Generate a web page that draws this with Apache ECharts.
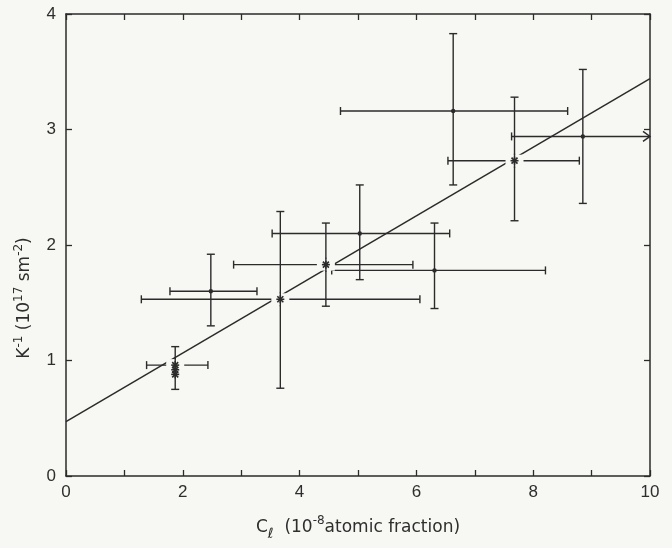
<!DOCTYPE html>
<html>
<head>
<meta charset="utf-8">
<script src="https://cdn.jsdelivr.net/npm/echarts@6/dist/echarts.min.js"></script>
<style>
  html, body { margin: 0; padding: 0; background: #f7f7f3; }
  #chart { width: 672px; height: 548px; }
</style>
</head>
<body>
<div id="chart"></div>
<script>
// points (x: 1e-8 atomic fraction, y: 1e17 sm^-2)
const ptX = [6.63, 7.68, 8.85, 5.03, 3.67, 4.45, 6.31, 2.48, 1.87]
const ptY = [3.16, 2.73, 2.94, 2.10, 1.53, 1.83, 1.78, 1.60, 0.96]
const xLow = [4.70, 6.54, 7.63, 3.53, 1.29, 2.87, 4.55, 1.78, 1.38]
const xHigh = [8.59, 8.79, 10.0, 6.57, 6.06, 5.94, 8.21, 3.27, 2.43]
const yLow = [2.52, 2.21, 2.36, 1.70, 0.76, 1.47, 1.45, 1.30, 0.75]
const yHigh = [3.83, 3.28, 3.52, 2.52, 2.29, 2.19, 2.19, 1.92, 1.12]
const isStar = [0, 1, 0, 0, 1, 1, 0, 0, 1]
const openRight = [0, 0, 1, 0, 0, 0, 0, 0, 0]
// extra overlapping stars under the low point
const clusterX = [1.87, 1.87]
const clusterY = [0.92, 0.88]
// fitted line
const fitX = [0, 10]
const fitY = [0.47, 3.44]
const xLabelsShown = [0, 2, 4, 6, 8, 10]

const ink = '#2b2b2b'
const paper = '#f7f7f3'
const font = 'Liberation Sans'
const titleFont = 'DejaVu Sans'

const chart = echarts.init(document.getElementById('chart'))

const barData = ptX.map((x, i) => [x, ptY[i], xLow[i], xHigh[i], yLow[i], yHigh[i], openRight[i]])
// kind: 0 dot, 1 star with white halo, 2 star without halo (overlapping ones)
const markData = ptX.map((x, i) => [x, ptY[i], isStar[i]])
clusterX.forEach((x, i) => markData.push([x, clusterY[i], 2]))

const renderBars = (params, api) => {
  const x = api.value(0), y = api.value(1)
  const l = api.coord([api.value(2), y])
  const r = api.coord([api.value(3), y])
  const t = api.coord([x, api.value(5)])
  const b = api.coord([x, api.value(4)])
  const cap = 4
  const st = { stroke: ink, lineWidth: 1.4, fill: null }
  const seg = (x1, y1, x2, y2) => ({ type: 'line', shape: { x1, y1, x2, y2 }, style: st })
  const kids = [
    seg(l[0], l[1], r[0], r[1]),
    seg(t[0], t[1], b[0], b[1]),
    seg(t[0] - cap, t[1], t[0] + cap, t[1]),
    seg(b[0] - cap, b[1], b[0] + cap, b[1]),
    seg(l[0], l[1] - cap, l[0], l[1] + cap),
  ]
  if (api.value(6)) {
    kids.push({ type: 'polyline', shape: { points: [[r[0] - 7, r[1] - 5], [r[0], r[1]], [r[0] - 7, r[1] + 5]] }, style: st })
  } else {
    kids.push(seg(r[0], r[1] - cap, r[0], r[1] + cap))
  }
  return { type: 'group', children: kids }
}

const renderMarks = (params, api) => {
  const p = api.coord([api.value(0), api.value(1)])
  const kind = api.value(2)
  if (!kind) {
    return { type: 'circle', shape: { cx: p[0], cy: p[1], r: 2.2 }, style: { fill: ink } }
  }
  const st = { stroke: ink, lineWidth: 1.6 }
  const a = 4
  const d = 3
  const kids = []
  if (kind === 1) {
    kids.push({ type: 'rect', shape: { x: p[0] - 9, y: p[1] - 6, width: 18, height: 12 }, style: { fill: paper } })
    kids.push({ type: 'line', shape: { x1: p[0], y1: p[1] - 7, x2: p[0], y2: p[1] + 7 }, style: { stroke: ink, lineWidth: 1.4 } })
  }
  kids.push(
    { type: 'line', shape: { x1: p[0] - a, y1: p[1], x2: p[0] + a, y2: p[1] }, style: st },
    { type: 'line', shape: { x1: p[0], y1: p[1] - a, x2: p[0], y2: p[1] + a }, style: st },
    { type: 'line', shape: { x1: p[0] - d, y1: p[1] - d, x2: p[0] + d, y2: p[1] + d }, style: st },
    { type: 'line', shape: { x1: p[0] - d, y1: p[1] + d, x2: p[0] + d, y2: p[1] - d }, style: st }
  )
  return { type: 'group', children: kids }
}

const axisCommon = {
  type: 'value',
  interval: 1,
  axisLine: { show: true, onZero: false, lineStyle: { color: ink, width: 1.5 } },
  axisTick: { show: true, inside: true, length: 6, lineStyle: { color: ink, width: 1.3 } },
  splitLine: { show: false },
}

const option = {
  backgroundColor: paper,
  animation: false,
  grid: { left: 66, right: 22, top: 14, bottom: 72 },
  xAxis: [
    {
      ...axisCommon,
      min: 0,
      max: 10,
      position: 'bottom',
      axisLabel: {
        color: '#2e2e2e',
        fontFamily: font,
        fontSize: 17,
        margin: 8,
        formatter: (v) => (xLabelsShown.includes(v) ? String(v) : ''),
      },
      name: '{m|C}{sub|ℓ}{m|  (10}{sup|-8}{m|atomic fraction)}',
      nameLocation: 'middle',
      nameGap: 38,
      nameTextStyle: {
        fontFamily: titleFont,
        color: '#2e2e2e',
        rich: {
          m: { fontSize: 17, fontFamily: titleFont, color: '#2e2e2e' },
          sup: { fontSize: 12, fontFamily: titleFont, color: '#2e2e2e', padding: [0, 0, 13, 0] },
          sub: { fontSize: 14, fontFamily: titleFont, color: '#2e2e2e', fontStyle: 'italic', padding: [13, 0, 0, 0] },
        },
      },
    },
    {
      ...axisCommon,
      min: 0,
      max: 10,
      position: 'top',
      axisLabel: { show: false },
    },
  ],
  yAxis: [
    {
      ...axisCommon,
      min: 0,
      max: 4,
      position: 'left',
      axisLabel: { color: '#2e2e2e', fontFamily: font, fontSize: 17, margin: 10 },
    },
    {
      ...axisCommon,
      min: 0,
      max: 4,
      position: 'right',
      axisLabel: { show: false },
    },
  ],
  graphic: [
    {
      type: 'text',
      x: 25,
      y: 298,
      rotation: Math.PI / 2,
      style: {
        text: '{m|K}{sup|-1}{m| (10}{sup|17}{m| sm}{sup|-2}{m|)}',
        align: 'center',
        verticalAlign: 'middle',
        rich: {
          m: { fontSize: 17, fontFamily: titleFont, fill: '#2e2e2e' },
          sup: { fontSize: 12, fontFamily: titleFont, fill: '#2e2e2e', padding: [0, 0, 13, 0] },
        },
      },
    },
  ],
  series: [
    {
      type: 'line',
      data: fitX.map((x, i) => [x, fitY[i]]),
      symbol: 'none',
      lineStyle: { color: ink, width: 1.5 },
      z: 1,
    },
    {
      type: 'custom',
      data: barData,
      renderItem: renderBars,
      encode: { x: 0, y: 1 },
      z: 2,
    },
    {
      type: 'custom',
      data: markData,
      renderItem: renderMarks,
      encode: { x: 0, y: 1 },
      z: 3,
    },
  ],
}

chart.setOption(option)
</script>
</body>
</html>
